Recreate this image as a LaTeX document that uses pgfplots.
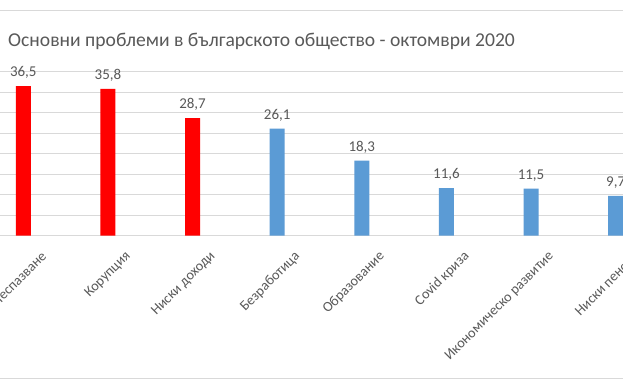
\documentclass[border=0pt]{standalone}
\usepackage{pgfplots}
\pgfplotsset{compat=1.18}
\usepackage{fontspec}
\setmainfont{Carlito}
\definecolor{barred}{HTML}{FF0000}
\definecolor{barblue}{HTML}{5B9BD5}
\definecolor{gridc}{HTML}{D9D9D9}
\definecolor{txt}{HTML}{595959}
\begin{document}
\begin{tikzpicture}
\useasboundingbox (0pt,0pt) rectangle (623pt,380pt);
\clip (0pt,0pt) rectangle (623pt,380pt);
\fill[white] (0pt,0pt) rectangle (623pt,380pt);
\draw[gridc, line width=1pt] (0pt,369pt) -- (623pt,369pt);
\draw[gridc, line width=1pt] (0pt,2pt) -- (623pt,2pt);
\node[anchor=base west, text=txt, font=\fontsize{19.6}{24}\selectfont, inner sep=0pt] at (8pt,333pt) {Основни проблеми в българското общество - октомври 2020};
\begin{axis}[
  at={(-19pt,144.3pt)}, anchor=south west,
  scale only axis, width=677pt, height=164pt,
  xmin=-0.5, xmax=7.5, ymin=0, ymax=40,
  ybar, bar width=15pt,
  axis line style={draw=none},
  major tick length=0pt,
  ytick={0,5,...,40}, yticklabels={},
  ymajorgrids, grid style={gridc, line width=1pt},
  xtick={0,...,7},
  xticklabels={Закононеспазване, Корупция, Ниски доходи, Безработица, Образование, Covid криза, Икономическо развитие, Ниски пенсии},
  x tick label style={xshift=23pt, yshift=-16pt, rotate=45, anchor=east, text=txt, font=\fontsize{14.2}{17}\selectfont},
  nodes near coords,
  every node near coord/.append style={text=txt, font=\fontsize{15}{17}\selectfont, yshift=4pt},
  /pgf/number format/.cd, use comma, fixed, fixed zerofill, precision=1, assume math mode=true,
]
\addplot[fill=barred, draw=none, bar shift=0pt] coordinates {(0,36.5) (1,35.8) (2,28.7)};
\addplot[fill=barblue, draw=none, bar shift=0pt] coordinates {(3,26.1) (4,18.3) (5,11.6) (6,11.5) (7,9.7)};
\end{axis}
\end{tikzpicture}
\end{document}
